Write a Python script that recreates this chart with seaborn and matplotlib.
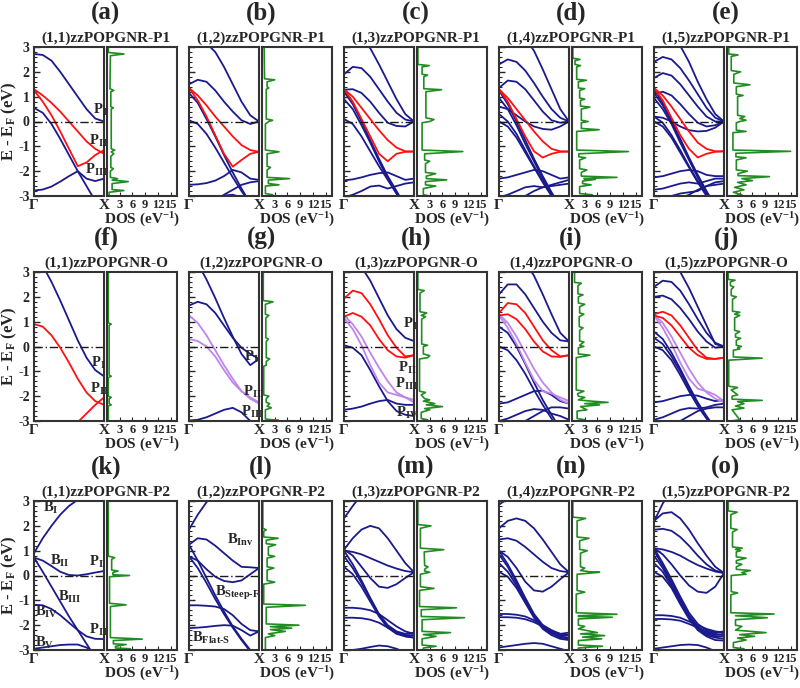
import numpy as np
import pandas as pd
import seaborn as sns
import matplotlib.pyplot as plt
from matplotlib.ticker import MultipleLocator

# k-path sample points (Gamma -> X)
K = [0, 0.125, 0.25, 0.375, 0.5, 0.625, 0.75, 0.875, 1.0]

# ---------------- row 1 : P1 ----------------
a_blue = [[2.72, 2.68, 2.45, 2.0, 1.5, 1.0, 0.5, 0.12, 0.0],
          [0.55, 0.35, -0.1, -0.7, -1.35, -2.0, -2.6, -3.2, -3.8],
          [-2.78, -2.74, -2.62, -2.42, -2.2, -2.0, -2.3, -2.4, -2.3]]
a_red = [[1.3, 1.05, 0.75, 0.4, 0.0, -0.4, -0.8, -1.1, -1.3],
         [1.25, 0.8, 0.25, -0.4, -1.1, -1.8, -1.65, -1.35, -1.15]]
a_dos = [(3.0, 0.3), (2.78, 0.3), (2.72, 4.0), (2.65, 0.8), (1.32, 0.7), (1.25, 1.6), (1.2, 0.9),
         (0.6, 0.9), (0.55, 1.5), (0.5, 1.0), (-1.1, 1.0), (-1.15, 1.8), (-1.22, 1.0), (-1.3, 1.6),
         (-1.4, 0.9), (-1.85, 0.9), (-1.9, 1.5), (-2.0, 0.8), (-2.25, 0.8), (-2.3, 2.5), (-2.36, 1.2),
         (-2.42, 5.0), (-2.5, 1.2), (-2.74, 1.2), (-2.78, 4.0), (-2.85, 0.5), (-3.0, 0.5)]

b_blue = [[3.6, 3.45, 3.15, 2.8, 2.2, 1.5, 0.8, 0.25, 0.0],
          [1.5, 1.68, 1.6, 1.25, 0.8, 0.4, 0.05, -0.1, 0.0],
          [1.15, 0.75, 0.1, -0.6, -1.35, -2.05, -2.7, -3.3, -3.9],
          [0.05, -0.1, -0.5, -1.05, -1.65, -2.25, -2.8, -3.3, -3.8],
          [-2.55, -2.53, -2.48, -2.38, -2.2, -1.95, -2.05, -2.3, -2.35],
          [-3.3, -3.25, -3.15, -3.05, -2.98, -2.95, -3.05, -3.2, -3.3],
          [-3.8, -3.7, -3.5, -3.2, -2.95, -2.75, -2.55, -2.45, -2.4]]
b_red = [[1.35, 1.05, 0.65, 0.2, -0.2, -0.6, -0.95, -1.15, -1.22],
         [1.35, 0.85, 0.2, -0.55, -1.3, -1.82, -1.55, -1.3, -1.22]]
b_dos = [(3.0, 0.5), (1.72, 0.6), (1.68, 3.0), (1.6, 1.2), (1.4, 1.2), (1.35, 1.6), (1.3, 1.0),
         (0.1, 1.0), (0.05, 2.5), (0.0, 1.6), (-0.1, 0.8), (-1.15, 0.8), (-1.22, 4.0), (-1.3, 1.2),
         (-1.8, 1.2), (-1.85, 2.0), (-1.95, 1.2), (-2.25, 1.2), (-2.3, 6.5), (-2.36, 1.5),
         (-2.5, 1.5), (-2.55, 4.0), (-2.6, 0.8), (-2.9, 0.8), (-2.95, 2.5), (-3.0, 1.5)]

c_blue = [[4.0, 3.7, 3.3, 2.95, 2.3, 1.6, 0.9, 0.3, 0.0],
          [1.9, 2.2, 2.15, 1.8, 1.3, 0.8, 0.35, 0.08, 0.0],
          [1.28, 1.3, 1.15, 0.8, 0.35, -0.05, -0.18, -0.2, 0.0],
          [1.2, 0.7, 0.0, -0.75, -1.5, -2.2, -2.8, -3.4, -4.0],
          [0.9, 0.5, -0.15, -0.85, -1.6, -2.3, -2.9, -3.5, -4.0],
          [0.1, -0.1, -0.6, -1.2, -1.8, -2.35, -2.9, -3.4, -3.9],
          [-2.37, -2.33, -2.25, -2.15, -2.08, -2.05, -2.2, -2.35, -2.3],
          [-3.05, -2.95, -2.8, -2.62, -2.58, -2.7, -2.6, -2.5, -2.45]]
c_red = [[1.3, 1.0, 0.55, 0.1, -0.35, -0.75, -1.05, -1.2, -1.21],
         [1.3, 0.8, 0.1, -0.6, -1.3, -1.6, -1.3, -1.22, -1.21]]
c_dos = [(3.0, 0.2), (2.3, 0.2), (2.25, 2.9), (2.2, 1.2), (1.9, 1.2), (1.87, 2.5), (1.8, 1.6),
         (1.32, 1.6), (1.28, 5.8), (1.2, 2.1), (0.15, 2.1), (0.08, 4.0), (0.0, 3.0), (-0.05, 1.2),
         (-1.15, 1.2), (-1.21, 10.8), (-1.3, 1.8), (-1.55, 1.8), (-1.6, 3.0), (-1.7, 2.0),
         (-2.05, 2.0), (-2.1, 4.4), (-2.2, 2.2), (-2.3, 2.2), (-2.35, 7.0), (-2.42, 2.0),
         (-2.55, 2.0), (-2.6, 4.4), (-2.7, 1.5), (-2.95, 1.5), (-3.0, 3.0)]

d_blue = [[4.3, 4.1, 3.8, 3.35, 2.85, 2.1, 1.3, 0.5, 0.0],
          [2.3, 2.5, 2.4, 2.05, 1.55, 1.0, 0.5, 0.15, 0.0],
          [1.35, 1.65, 1.6, 1.3, 0.85, 0.4, 0.05, -0.05, 0.0],
          [0.6, 0.5, 0.25, 0.0, -0.2, -0.3, -0.33, -0.2, 0.0],
          [1.25, 0.7, 0.0, -0.75, -1.5, -2.2, -2.85, -3.4, -4.0],
          [0.95, 0.5, -0.15, -0.9, -1.6, -2.3, -2.9, -3.5, -4.0],
          [0.3, 0.0, -0.5, -1.15, -1.8, -2.4, -2.95, -3.5, -4.0],
          [0.0, -0.2, -0.65, -1.25, -1.85, -2.45, -3.0, -3.5, -4.0],
          [-2.3, -2.25, -2.15, -2.05, -1.95, -2.0, -2.15, -2.3, -2.25],
          [-3.05, -2.95, -2.8, -2.65, -2.6, -2.65, -2.55, -2.45, -2.35],
          [-3.5, -3.4, -3.2, -3.0, -2.8, -2.65, -2.6, -2.55, -2.5]]
d_red = [[1.3, 0.95, 0.5, 0.05, -0.4, -0.8, -1.1, -1.2, -1.21],
         [1.3, 0.8, 0.1, -0.6, -1.2, -1.45, -1.3, -1.22, -1.21]]
d_dos = [(3.0, 0.2), (2.55, 0.2), (2.5, 1.9), (2.45, 0.7), (2.3, 0.7), (2.25, 2.0), (2.2, 1.1),
         (1.7, 1.1), (1.66, 3.4), (1.6, 1.5), (1.35, 1.5), (1.32, 3.0), (1.25, 1.8), (0.95, 1.8),
         (0.9, 3.0), (0.85, 2.0), (0.62, 2.0), (0.58, 4.2), (0.5, 2.2), (0.05, 2.2), (0.0, 3.8),
         (-0.05, 2.2), (-0.28, 2.2), (-0.33, 6.4), (-0.4, 1.1), (-1.15, 1.1), (-1.21, 13.3),
         (-1.3, 1.6), (-1.42, 1.6), (-1.46, 3.2), (-1.55, 1.8), (-1.9, 1.8), (-1.95, 3.5),
         (-2.05, 2.2), (-2.2, 2.2), (-2.25, 10.6), (-2.3, 2.8), (-2.33, 5.5), (-2.4, 2.5),
         (-2.5, 2.5), (-2.55, 4.5), (-2.62, 1.8), (-2.9, 1.8), (-2.95, 4.8), (-3.0, 2.5)]

e_blue = [[4.3, 4.0, 3.6, 3.05, 2.4, 1.6, 0.9, 0.3, 0.0],
          [2.4, 2.6, 2.5, 2.15, 1.65, 1.1, 0.55, 0.15, 0.0],
          [1.75, 1.95, 1.85, 1.5, 1.05, 0.6, 0.2, 0.0, 0.0],
          [1.1, 1.2, 1.05, 0.7, 0.3, -0.05, -0.2, -0.15, 0.0],
          [0.2, 0.15, 0.0, -0.2, -0.35, -0.4, -0.38, -0.25, 0.0],
          [1.3, 0.75, 0.05, -0.7, -1.45, -2.15, -2.8, -3.4, -4.0],
          [1.15, 0.65, 0.0, -0.75, -1.5, -2.2, -2.85, -3.45, -4.0],
          [0.95, 0.5, -0.1, -0.85, -1.55, -2.25, -2.9, -3.5, -4.0],
          [0.2, -0.05, -0.55, -1.15, -1.8, -2.4, -2.95, -3.5, -4.0],
          [0.0, -0.2, -0.65, -1.25, -1.85, -2.45, -3.0, -3.55, -4.0],
          [-2.25, -2.2, -2.1, -2.0, -1.95, -2.0, -2.15, -2.2, -2.2],
          [-2.75, -2.7, -2.6, -2.5, -2.45, -2.5, -2.4, -2.3, -2.3],
          [-3.2, -3.1, -3.0, -2.9, -2.85, -2.8, -2.6, -2.45, -2.4],
          [-3.6, -3.5, -3.3, -3.1, -2.95, -2.75, -2.6, -2.55, -2.5]]
e_red = [[1.35, 1.05, 0.6, 0.1, -0.4, -0.85, -1.1, -1.2, -1.2],
         [1.35, 0.85, 0.15, -0.55, -1.1, -1.45, -1.3, -1.22, -1.2]]
e_dos = [(3.0, 0.4), (2.72, 0.4), (2.68, 2.6), (2.62, 1.0), (2.05, 1.0), (2.0, 3.2), (1.9, 1.6),
         (1.55, 1.6), (1.48, 5.4), (1.4, 2.2), (1.1, 2.2), (1.05, 3.8), (1.0, 2.5), (0.25, 2.5),
         (0.2, 4.2), (0.12, 3.0), (0.05, 4.5), (0.0, 3.0), (-0.05, 2.2), (-0.35, 2.2), (-0.4, 4.5),
         (-0.45, 1.4), (-1.15, 1.4), (-1.2, 15.0), (-1.28, 2.1), (-1.42, 2.1), (-1.46, 4.5),
         (-1.55, 2.2), (-1.95, 2.2), (-2.0, 4.8), (-2.1, 2.6), (-2.18, 2.6), (-2.22, 10.0),
         (-2.3, 3.5), (-2.38, 6.0), (-2.45, 2.5), (-2.55, 4.5), (-2.65, 1.8), (-2.75, 4.0),
         (-2.85, 1.5), (-2.95, 3.5), (-3.0, 1.5)]

# ---------------- row 2 : O ----------------
f_blue = [[3.7, 3.25, 2.6, 1.85, 1.05, 0.25, -0.45, -0.95, -1.2]]
f_red = [[0.9, 0.8, 0.45, -0.05, -0.65, -1.3, -1.85, -2.2, -2.35],
         [-5.5, -5.0, -4.5, -4.0, -3.5, -3.05, -2.7, -2.35, -2.05]]
f_dos = [(3.0, 0.3), (0.95, 0.3), (0.9, 1.0), (0.85, 0.5), (-1.15, 0.5), (-1.2, 1.0), (-1.25, 0.3),
         (-2.0, 0.3), (-2.05, 1.0), (-2.1, 0.5), (-2.3, 0.5), (-2.35, 1.0), (-2.4, 0.3), (-3.0, 0.3)]

g_blue = [[3.8, 3.35, 2.7, 1.95, 1.15, 0.4, -0.3, -0.75, -0.5],
          [1.65, 1.8, 1.7, 1.35, 0.85, 0.35, -0.05, -0.3, -0.5],
          [-2.98, -2.95, -2.85, -2.7, -2.55, -2.47, -2.65, -3.0, -3.3]]
g_purple = [[1.25, 0.95, 0.45, -0.15, -0.75, -1.3, -1.8, -2.1, -2.3],
            [0.3, 0.22, 0.0, -0.4, -0.95, -1.45, -1.8, -2.05, -2.25]]
g_dos = [(3.0, 0.3), (1.85, 0.3), (1.8, 2.6), (1.7, 0.8), (1.3, 0.8), (1.25, 1.6), (1.15, 0.9),
         (0.35, 0.9), (0.3, 1.5), (0.2, 1.0), (-0.45, 1.0), (-0.5, 1.8), (-0.6, 1.0), (-0.75, 1.0),
         (-0.8, 0.4), (-1.95, 0.4), (-2.0, 1.6), (-2.1, 1.0), (-2.25, 1.0), (-2.3, 1.8), (-2.4, 1.2),
         (-2.47, 2.2), (-2.55, 0.8), (-2.92, 0.8), (-2.98, 4.0), (-3.0, 1.5)]

h_blue = [[4.0, 3.6, 3.2, 2.65, 1.95, 1.25, 0.7, 0.35, 0.22],
          [0.05, -0.05, -0.35, -0.95, -1.6, -2.2, -2.6, -2.75, -2.8],
          [-2.55, -2.5, -2.42, -2.3, -2.2, -2.15, -2.3, -2.35, -2.35]]
h_red = [[1.93, 2.25, 2.15, 1.7, 1.1, 0.45, -0.05, -0.4, -0.35],
         [1.2, 1.35, 1.2, 0.85, 0.3, -0.15, -0.4, -0.45, -0.35]]
h_purple = [[1.25, 0.9, 0.4, -0.25, -0.85, -1.4, -1.85, -2.05, -2.15],
            [1.15, 0.7, 0.05, -0.75, -1.45, -1.85, -1.95, -2.05, -2.25]]
h_dos = [(3.0, 0.2), (2.3, 0.2), (2.25, 1.7), (2.15, 0.7), (1.4, 0.7), (1.35, 2.3), (1.25, 1.0),
         (1.2, 2.0), (1.1, 1.1), (0.1, 1.1), (0.05, 2.5), (0.0, 1.5), (-0.3, 1.5), (-0.37, 3.0),
         (-0.45, 2.5), (-0.5, 0.6), (-1.8, 0.6), (-1.85, 2.0), (-1.95, 1.0), (-2.1, 1.8),
         (-2.15, 3.0), (-2.2, 1.5), (-2.3, 4.2), (-2.35, 2.2), (-2.42, 6.0), (-2.5, 1.8),
         (-2.55, 3.0), (-2.65, 1.0), (-2.9, 1.0), (-2.95, 2.5), (-3.0, 1.0)]

i_blue = [[4.4, 4.15, 3.8, 3.4, 2.85, 2.1, 1.3, 0.55, 0.2],
          [2.1, 2.5, 2.5, 2.1, 1.55, 1.0, 0.55, 0.25, 0.2],
          [0.8, 0.55, 0.0, -0.7, -1.45, -2.15, -2.75, -3.3, -3.8],
          [0.0, -0.15, -0.55, -1.1, -1.75, -2.35, -2.9, -3.4, -3.9],
          [-2.3, -2.25, -2.1, -1.95, -1.8, -1.78, -1.95, -2.2, -2.3],
          [-3.0, -2.9, -2.75, -2.6, -2.52, -2.55, -2.7, -2.8, -2.95],
          [-3.5, -3.4, -3.2, -3.0, -2.8, -2.6, -2.45, -2.45, -2.5]]
i_red = [[1.35, 1.75, 1.7, 1.35, 0.8, 0.25, -0.15, -0.4, -0.35],
         [1.25, 1.3, 1.1, 0.7, 0.2, -0.2, -0.4, -0.42, -0.35]]
i_purple = [[1.3, 0.95, 0.4, -0.25, -0.9, -1.45, -1.85, -2.15, -2.3],
            [1.25, 0.75, 0.1, -0.65, -1.35, -1.8, -1.9, -2.05, -2.2]]
i_dos = [(3.0, 0.6), (2.58, 0.6), (2.55, 2.2), (2.45, 1.4), (2.12, 1.4), (2.08, 2.6), (2.0, 1.5),
         (1.75, 1.5), (1.7, 3.0), (1.6, 1.8), (1.35, 1.8), (1.3, 2.8), (1.2, 1.7), (0.8, 1.7),
         (0.75, 2.6), (0.65, 1.8), (0.22, 1.8), (0.18, 2.8), (0.05, 1.8), (0.0, 2.8), (-0.05, 1.5),
         (-0.3, 1.5), (-0.35, 4.2), (-0.45, 1.0), (-1.75, 1.0), (-1.8, 2.8), (-1.9, 1.3),
         (-2.0, 1.5), (-2.05, 3.0), (-2.15, 1.5), (-2.2, 4.5), (-2.25, 8.5), (-2.3, 3.0),
         (-2.35, 6.5), (-2.42, 2.0), (-2.55, 3.5), (-2.6, 1.2), (-2.9, 1.2), (-2.95, 3.0), (-3.0, 1.5)]

j_blue = [[4.4, 4.0, 3.55, 3.0, 2.35, 1.6, 0.85, 0.1, 0.0],
          [2.4, 2.65, 2.6, 2.25, 1.7, 1.1, 0.55, 0.15, 0.0],
          [2.0, 2.05, 1.9, 1.55, 1.1, 0.6, 0.2, -0.05, 0.0],
          [0.6, 0.3, -0.25, -0.9, -1.6, -2.25, -2.8, -3.3, -3.8],
          [0.35, 0.1, -0.4, -1.0, -1.7, -2.3, -2.85, -3.35, -3.85],
          [0.0, -0.15, -0.55, -1.15, -1.8, -2.4, -2.9, -3.4, -3.9],
          [-2.25, -2.2, -2.1, -2.0, -1.95, -1.98, -2.1, -2.2, -2.15],
          [-2.95, -2.85, -2.7, -2.55, -2.48, -2.5, -2.45, -2.35, -2.3],
          [-3.5, -3.4, -3.2, -3.0, -2.8, -2.6, -2.5, -2.45, -2.45]]
j_red = [[1.3, 1.4, 1.25, 0.85, 0.35, -0.15, -0.45, -0.5, -0.45],
         [1.25, 1.15, 0.85, 0.4, -0.05, -0.35, -0.5, -0.5, -0.45]]
j_purple = [[1.3, 0.95, 0.4, -0.25, -0.9, -1.45, -1.85, -2.1, -2.25],
            [1.25, 0.75, 0.1, -0.65, -1.3, -1.7, -1.8, -1.95, -2.2]]
j_dos = [(3.0, 0.3), (2.7, 0.3), (2.67, 1.9), (2.6, 0.8), (2.45, 0.8), (2.4, 1.6), (2.3, 1.0),
         (2.05, 1.0), (2.0, 2.2), (1.9, 1.3), (1.42, 1.3), (1.38, 3.0), (1.3, 1.8), (1.25, 3.0),
         (1.15, 1.8), (0.65, 1.8), (0.6, 3.0), (0.5, 2.0), (0.38, 2.0), (0.33, 3.2), (0.25, 2.2),
         (0.05, 2.2), (0.0, 3.4), (-0.05, 2.5), (-0.1, 3.0), (-0.15, 1.5), (-0.42, 1.5),
         (-0.47, 8.3), (-0.55, 0.4), (-1.6, 0.4), (-1.65, 2.5), (-1.75, 1.0), (-1.95, 2.5),
         (-2.0, 1.2), (-2.12, 1.2), (-2.17, 8.3), (-2.22, 2.5), (-2.3, 4.0), (-2.4, 2.0),
         (-2.48, 4.0), (-2.55, 1.2), (-2.95, 3.0), (-3.0, 1.0)]

# ---------------- row 3 : P2 ----------------
k_blue = [[0.9, 1.5, 2.0, 2.45, 2.8, 3.05, 3.25, 3.4, 3.5],
          [0.72, 0.6, 0.38, 0.15, 0.02, 0.0, 0.05, 0.12, 0.18],
          [0.72, 0.15, -0.45, -1.05, -1.65, -2.2, -2.75, -3.3, -3.8],
          [-1.18, -1.2, -1.35, -1.6, -1.9, -2.2, -2.45, -2.55, -2.56],
          [-2.95, -2.9, -2.85, -2.8, -2.78, -2.78, -2.9, -3.1, -3.3]]
k_dos = [(3.0, 0.3), (0.78, 0.3), (0.72, 1.8), (0.65, 1.1), (0.22, 1.1), (0.18, 2.6), (0.12, 1.4),
         (0.03, 1.4), (0.0, 5.3), (-0.05, 0.6), (-1.12, 0.6), (-1.18, 4.5), (-1.25, 0.8),
         (-2.5, 0.8), (-2.56, 8.3), (-2.62, 1.5), (-2.75, 1.5), (-2.78, 4.5), (-2.85, 2.0),
         (-2.92, 2.0), (-2.95, 5.5), (-3.0, 2.0)]

l_blue = [[1.85, 2.45, 2.95, 3.4, 3.8, 4.1, 4.3, 4.5, 4.6],
          [1.24, 1.5, 1.45, 1.2, 0.9, 0.6, 0.35, 0.33, 0.3],
          [0.77, 0.6, 0.25, -0.05, -0.22, -0.27, -0.2, 0.05, 0.3],
          [1.24, 0.6, -0.1, -0.8, -1.45, -2.05, -2.55, -3.0, -3.5],
          [0.77, 0.3, -0.3, -0.95, -1.55, -2.1, -2.6, -3.05, -3.5],
          [-1.2, -1.2, -1.22, -1.25, -1.35, -1.6, -1.95, -2.2, -2.25],
          [-2.12, -2.1, -2.07, -2.03, -2.0, -2.02, -2.2, -2.42, -2.25]]
l_dos = [(3.0, 0.2), (1.9, 0.2), (1.84, 1.0), (1.78, 0.4), (1.55, 0.4), (1.5, 3.8), (1.42, 1.0),
         (1.28, 1.0), (1.24, 3.2), (1.15, 1.5), (0.82, 1.5), (0.77, 3.0), (0.7, 1.2), (0.35, 1.2),
         (0.3, 2.8), (0.22, 1.2), (-0.2, 1.2), (-0.27, 3.0), (-0.35, 0.4), (-1.15, 0.4),
         (-1.2, 10.2), (-1.28, 1.0), (-1.95, 1.0), (-2.0, 8.7), (-2.06, 2.0), (-2.12, 7.0),
         (-2.18, 2.0), (-2.25, 5.5), (-2.35, 1.5), (-2.42, 3.0), (-2.5, 0.8), (-3.0, 0.8)]

m_blue = [[2.3, 2.8, 3.25, 3.6, 3.9, 4.1, 4.2, 4.3, 4.3],
          [1.04, 1.5, 1.85, 2.0, 1.9, 1.5, 1.0, 0.5, 0.13],
          [1.05, 0.8, 0.35, -0.1, -0.45, -0.5, -0.35, -0.1, 0.13],
          [1.0, 0.95, 0.85, 0.7, 0.55, 0.4, 0.28, 0.18, 0.13],
          [1.0, 0.45, -0.2, -0.9, -1.55, -2.0, -2.25, -2.35, -2.3],
          [0.78, 0.3, -0.3, -0.95, -1.6, -2.05, -2.3, -2.4, -2.4],
          [0.35, 0.05, -0.45, -1.05, -1.65, -2.1, -2.35, -2.45, -2.5],
          [-1.3, -1.3, -1.33, -1.4, -1.55, -1.8, -2.05, -2.25, -2.35],
          [-1.7, -1.7, -1.72, -1.78, -1.9, -2.1, -2.3, -2.45, -2.5],
          [-3.05, -3.0, -2.95, -2.88, -2.82, -2.85, -2.95, -3.1, -3.2]]
m_dos = [(3.0, 0.2), (2.05, 0.2), (2.0, 3.3), (1.9, 0.8), (1.1, 0.8), (1.04, 6.3), (0.95, 1.7),
         (0.4, 1.8), (0.35, 2.6), (0.25, 1.8), (0.18, 1.8), (0.13, 3.0), (0.05, 0.8), (-0.45, 0.8),
         (-0.52, 4.0), (-0.6, 0.6), (-1.25, 0.6), (-1.3, 9.3), (-1.38, 1.0), (-1.65, 1.0),
         (-1.7, 11.2), (-1.78, 1.2), (-2.25, 1.2), (-2.3, 7.9), (-2.38, 1.5), (-2.45, 4.5),
         (-2.55, 1.2), (-2.8, 1.2), (-2.85, 4.5), (-2.92, 1.5), (-3.0, 1.5)]

n_blue = [[2.85, 3.1, 3.3, 3.5, 3.6, 3.7, 3.7, 3.7, 3.7],
          [1.9, 2.2, 2.3, 2.2, 1.9, 1.45, 0.95, 0.45, 0.13],
          [1.45, 1.5, 1.4, 1.15, 0.85, 0.55, 0.3, 0.18, 0.13],
          [1.0, 0.75, 0.3, -0.25, -0.6, -0.65, -0.45, -0.15, 0.13],
          [1.0, 0.45, -0.2, -0.9, -1.55, -2.0, -2.25, -2.35, -2.3],
          [0.85, 0.35, -0.3, -0.95, -1.6, -2.05, -2.3, -2.4, -2.4],
          [0.5, 0.15, -0.4, -1.05, -1.65, -2.1, -2.35, -2.45, -2.5],
          [0.15, -0.05, -0.5, -1.1, -1.7, -2.15, -2.4, -2.55, -2.6],
          [-1.55, -1.55, -1.58, -1.65, -1.8, -2.0, -2.2, -2.35, -2.4],
          [-1.68, -1.68, -1.7, -1.76, -1.88, -2.05, -2.3, -2.5, -2.55],
          [-2.9, -2.85, -2.8, -2.75, -2.72, -2.75, -2.85, -2.95, -3.05]]
n_dos = [(3.0, 0.2), (2.35, 0.2), (2.3, 3.2), (2.2, 1.2), (1.55, 1.2), (1.5, 4.0), (1.4, 1.8),
         (1.05, 1.8), (1.0, 3.6), (0.9, 2.0), (0.35, 2.0), (0.3, 3.0), (0.2, 2.0), (0.15, 4.2),
         (0.13, 6.5), (0.05, 1.2), (-0.6, 1.2), (-0.67, 3.0), (-0.75, 1.0), (-1.5, 1.0),
         (-1.56, 10.6), (-1.62, 1.5), (-1.65, 1.5), (-1.68, 9.5), (-1.75, 1.5), (-2.0, 1.5),
         (-2.05, 3.0), (-2.15, 1.5), (-2.3, 6.0), (-2.35, 2.0), (-2.42, 7.7), (-2.48, 2.5),
         (-2.55, 7.0), (-2.62, 1.5), (-2.8, 1.5), (-2.85, 7.2), (-2.92, 1.5), (-3.0, 1.5)]

o_blue = [[2.17, 2.9, 3.4, 3.75, 4.0, 4.1, 4.2, 4.2, 4.2],
          [2.2, 2.5, 2.55, 2.3, 1.85, 1.3, 0.8, 0.35, 0.1],
          [1.84, 1.88, 1.8, 1.55, 1.2, 0.8, 0.45, 0.2, 0.1],
          [1.1, 1.05, 0.95, 0.8, 0.6, 0.42, 0.28, 0.16, 0.1],
          [1.1, 0.85, 0.45, 0.0, -0.4, -0.65, -0.7, -0.45, 0.1],
          [1.1, 0.5, -0.15, -0.85, -1.5, -1.95, -2.2, -2.3, -2.25],
          [1.0, 0.4, -0.25, -0.95, -1.6, -2.05, -2.3, -2.4, -2.35],
          [0.8, 0.3, -0.35, -1.0, -1.65, -2.1, -2.35, -2.45, -2.45],
          [0.5, 0.15, -0.45, -1.1, -1.7, -2.15, -2.4, -2.5, -2.55],
          [0.15, -0.05, -0.5, -1.15, -1.75, -2.2, -2.45, -2.6, -2.62],
          [-1.6, -1.6, -1.63, -1.7, -1.85, -2.0, -2.15, -2.25, -2.3],
          [-1.75, -1.75, -1.77, -1.82, -1.95, -2.1, -2.25, -2.35, -2.4],
          [-2.95, -2.9, -2.85, -2.8, -2.78, -2.8, -2.9, -3.05, -3.15]]
o_dos = [(3.0, 0.3), (2.6, 0.3), (2.55, 2.4), (2.45, 0.9), (1.9, 0.9), (1.85, 2.4), (1.75, 1.3),
         (1.15, 1.3), (1.1, 3.6), (1.05, 2.0), (1.0, 3.2), (0.95, 2.2), (0.75, 2.2), (0.7, 4.5),
         (0.6, 2.2), (0.5, 2.2), (0.45, 3.5), (0.35, 2.2), (0.25, 2.2), (0.2, 5.5), (0.12, 3.5),
         (0.05, 4.5), (0.0, 1.0), (-0.65, 1.0), (-0.7, 2.5), (-0.78, 0.9), (-1.5, 0.9),
         (-1.55, 11.1), (-1.62, 2.0), (-1.7, 9.5), (-1.78, 2.0), (-2.0, 2.0), (-2.05, 3.5),
         (-2.2, 2.0), (-2.3, 9.2), (-2.38, 3.0), (-2.45, 6.5), (-2.52, 2.5), (-2.6, 4.5),
         (-2.7, 1.5), (-2.9, 1.5), (-2.95, 4.0), (-3.0, 1.5)]

letters = list("abcdefghijklmno")
titles = ["(1,1)zzPOPGNR-P1", "(1,2)zzPOPGNR-P1", "(1,3)zzPOPGNR-P1", "(1,4)zzPOPGNR-P1", "(1,5)zzPOPGNR-P1",
          "(1,1)zzPOPGNR-O", "(1,2)zzPOPGNR-O", "(1,3)zzPOPGNR-O", "(1,4)zzPOPGNR-O", "(1,5)zzPOPGNR-O",
          "(1,1)zzPOPGNR-P2", "(1,2)zzPOPGNR-P2", "(1,3)zzPOPGNR-P2", "(1,4)zzPOPGNR-P2", "(1,5)zzPOPGNR-P2"]
blues = [a_blue, b_blue, c_blue, d_blue, e_blue, f_blue, g_blue, h_blue, i_blue, j_blue,
         k_blue, l_blue, m_blue, n_blue, o_blue]
reds = [a_red, b_red, c_red, d_red, e_red, f_red, [], h_red, i_red, j_red, [], [], [], [], []]
purples = [[], [], [], [], [], [], g_purple, h_purple, i_purple, j_purple, [], [], [], [], []]
doses = [a_dos, b_dos, c_dos, d_dos, e_dos, f_dos, g_dos, h_dos, i_dos, j_dos,
         k_dos, l_dos, m_dos, n_dos, o_dos]

# annotation labels inside band panels
notes = {
    "a": [(0.84, 0.45, r"P$_{I}$"), (0.79, -0.78, r"P$_{II}$"), (0.73, -1.95, r"P$_{III}$")],
    "f": [(0.82, -0.65, r"P$_{I}$"), (0.8, -1.72, r"P$_{II}$")],
    "g": [(0.78, -0.42, r"P$_{I}$"), (0.77, -1.85, r"P$_{II}$"), (0.74, -2.62, r"P$_{III}$")],
    "h": [(0.84, 0.92, r"P$_{I}$"), (0.77, -0.85, r"P$_{II}$"), (0.73, -1.5, r"P$_{III}$"),
          (0.75, -2.68, r"P$_{IV}$")],
    "k": [(0.13, 2.7, r"B$_{I}$"), (0.23, 0.6, r"B$_{II}$"), (0.79, 0.55, r"P$_{I}$"),
          (0.34, -0.85, r"B$_{III}$"), (0.02, -1.45, r"B$_{IV}$"), (0.78, -2.2, r"P$_{II}$"),
          (0.02, -2.72, r"B$_{V}$")],
    "l": [(0.54, 1.45, r"B$_{Inv}$"), (0.37, -0.72, r"B$_{\text{Steep-F}}$"),
          (0.04, -2.52, r"B$_{\text{Flat-S}}$")],
}

BLUE = "#1a1a8c"
RED = "#ff1010"
PURPLE = "#bf85ea"
GREEN = "#218c21"

sns.set_theme(style="white")
plt.rcParams['font.family'] = ['Liberation Serif', 'DejaVu Serif']
plt.rcParams['font.weight'] = 'bold'
plt.rcParams['mathtext.fontset'] = 'custom'
plt.rcParams['mathtext.rm'] = 'Liberation Serif:bold'
plt.rcParams['mathtext.it'] = 'Liberation Serif:bold'
plt.rcParams['mathtext.bf'] = 'Liberation Serif:bold'
plt.rcParams['mathtext.default'] = 'rm'

W, H = 800, 688
fig = plt.figure(figsize=(W / 100, H / 100), dpi=100)


def bands_df(bands):
    rows = []
    for i, b in enumerate(bands):
        for kk, e in zip(K, b):
            rows.append((kk, e, i))
    return pd.DataFrame(rows, columns=["k", "E", "band"])


tops = [47, 272, 501]
ph = 149
for p in range(15):
    row, col = p // 5, p % 5
    left = 34 + 155 * col
    top = tops[row]
    axb = fig.add_axes([left / W, 1 - (top + ph) / H, 70 / W, ph / H])
    axd = fig.add_axes([(left + 73) / W, 1 - (top + ph) / H, 70 / W, ph / H])

    for bands, colr in [(blues[p], BLUE), (purples[p], PURPLE), (reds[p], RED)]:
        if len(bands) == 0:
            continue
        sns.lineplot(data=bands_df(bands), x="k", y="E", units="band", estimator=None,
                     color=colr, lw=1.3, ax=axb, legend=False)
    axb.axhline(0, color="k", lw=1.0, ls=(0, (6, 2, 1, 2)))
    axb.set_xlim(0, 1)
    axb.set_ylim(-3, 3)
    axb.set_xticks([0, 1])
    axb.set_xticklabels(["Γ", "X"], fontsize=11, fontweight="bold")
    axb.set_yticks([-3, -2, -1, 0, 1, 2, 3])
    axb.yaxis.set_minor_locator(MultipleLocator(0.2))
    axb.tick_params(axis="y", which="major", direction="in", length=4, width=1, left=True, pad=3)
    axb.tick_params(axis="y", which="minor", direction="in", length=2, width=0.8, left=True)
    axb.tick_params(axis="x", direction="in", length=0, pad=2)
    axb.set_xlabel("")
    axb.set_ylabel("")
    if col == 0:
        axb.set_yticklabels(["-3", "-2", "-1", "0", "1", "2", "3"], fontsize=10, fontweight="bold")
        axb.set_ylabel(r"E - E$_{F}$ (eV)", fontsize=12, fontweight="bold")
        axb.yaxis.set_label_coords(-0.22, 0.5)
    else:
        axb.set_yticklabels([])

    for kk, e, s in notes.get(letters[p], []):
        axb.text(kk, e, s, fontsize=10.5, fontweight="bold", ha="left", va="center")

    dd = doses[p]
    sns.lineplot(x=[v for e, v in dd], y=[e for e, v in dd], sort=False, estimator=None,
                 color=GREEN, lw=1.2, ax=axd)
    axd.set_xlim(0, 16.5)
    axd.set_ylim(-3, 3)
    axd.set_yticks([])
    axd.set_xticks([3, 6, 9, 12, 15])
    axd.set_xticklabels(["3", "6", "9", "12", "15"], fontsize=9, fontweight="bold")
    axd.tick_params(axis="x", direction="in", length=3, width=0.8, bottom=True, pad=2)
    axd.set_ylabel("")
    axd.set_xlabel(r"DOS (eV$^{-1}$)", fontsize=11, fontweight="bold", labelpad=0)

    for ax in (axb, axd):
        for sp in ax.spines.values():
            sp.set_edgecolor("#333333")
            sp.set_linewidth(1.5)

    fig.text((left + 72) / W, 1 - (top - 34) / H, "(" + letters[p] + ")", ha="center", va="center",
             fontsize=18, fontweight="bold")
    fig.text((left + 72) / W, 1 - (top - 9) / H, titles[p], ha="center", va="center",
             fontsize=11, fontweight="bold")

fig.savefig("out.png", dpi=100)
